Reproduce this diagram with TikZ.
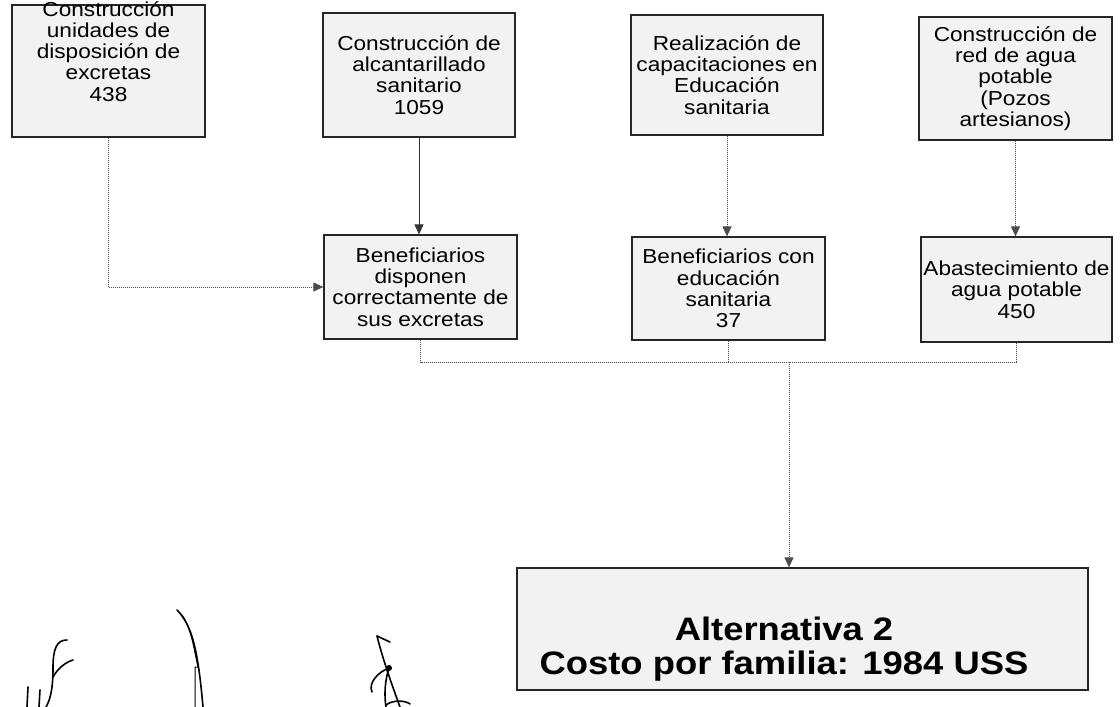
\documentclass[tikz,border=0pt]{standalone}
\usepackage{fontspec}
\setmainfont{Liberation Sans}
\newfontfamily\boxfont[FakeStretch=1.12]{Liberation Sans}
\usetikzlibrary{arrows.meta,calc}
\begin{document}
\begin{tikzpicture}[x=1pt,y=-1pt,
  box/.style={draw=black!85,line width=1.2pt,fill=black!5,inner sep=0pt,
    font=\boxfont\fontsize{20.2}{21.3}\selectfont,align=center},
  txt/.style={inner sep=0pt,font=\boxfont\fontsize{20.2}{21.3}\selectfont,align=center},
  bigtxt/.style={inner sep=0pt,font=\boxfont\bfseries\fontsize{32.5}{34}\selectfont,align=center},
  dots/.style={draw=black!70,line width=0.9pt,dash pattern=on 1pt off 1pt},
  arr/.style={-{Triangle[length=10pt,width=9pt]}},
  sig/.style={line width=1.6pt,line cap=round,line join=round}]
\useasboundingbox (0,0) rectangle (1120,707);
\fill[white] (0,0) rectangle (1120,707);
% top row
\node[box,minimum width=193pt,minimum height=132pt] (b1) at (108.5,71) {};
\node[txt,anchor=north] (b1t) at (108.5,1) {Construcción\\unidades de\\disposición de\\excretas\\438};
\node[box,minimum width=192pt,minimum height=124pt] (b2) at (419,75) {Construcción de\\alcantarillado\\sanitario\\1059};
\node[box,minimum width=192pt,minimum height=120pt] (b3) at (727,75) {Realización de\\capacitaciones en\\Educación\\sanitaria};
\node[box,minimum width=193pt,minimum height=123pt] (b4) at (1015.5,78.5) {Construcción de\\red de agua\\potable\\(Pozos\\artesianos)};
% middle row
\node[box,minimum width=193pt,minimum height=104pt] (b5) at (420.5,287) {Beneficiarios\\disponen\\correctamente de\\sus excretas};
\node[box,minimum width=193pt,minimum height=103pt] (b6) at (728.5,288.5) {Beneficiarios con\\educación\\sanitaria\\37};
\node[box,minimum width=191pt,minimum height=105pt] (b7) at (1016.5,289.5) {Abastecimiento de\\agua potable\\450};
% result box
\node[box,minimum width=571pt,minimum height=122pt] (r) at (802.5,629) {};
\node[bigtxt] (rt) at (784,649) {Alternativa 2\\Costo por familia: 1984 USS};
% connectors
\coordinate (bus) at (789,362);
\draw[dots,arr] (b1.south) |- (b5.west);
\draw[draw=black!80,line width=1pt,arr] (b2.south) -- (b2.south |- b5.north);
\draw[dots,arr] (b3.south) -- (b3.south |- b6.north);
\draw[dots,arr] (b4.south) -- (b4.south |- b7.north);
\draw[dots] (b5.south) |- (bus) -| (b7.south);
\draw[dots] (b6.south) -- (b6.south |- bus);
\draw[dots,arr] (bus) -- (bus |- r.north);
% handwritten marks
\draw[sig] (28,687) -- (27,707);
\draw[sig] (40,690) -- (39,707);
\draw[sig] (67,640) .. controls (57,640) and (53,648) .. (53,668) .. controls (53,690) and (50,700) .. (46,707);
\draw[sig] (53,677) .. controls (58,668) and (66,662) .. (73,660);
\draw[sig] (177,610) .. controls (192,625) and (198,650) .. (203,707);
\draw[line width=1pt] (182,615) .. controls (192,630) and (194,650) .. (198,667) -- (195,667) -- (195,707);
\draw[sig] (377,636) -- (390,642);
\draw[sig] (377,636) .. controls (383,660) and (392,685) .. (400,707);
\draw[sig] (389,668) .. controls (378,672) and (368,683) .. (372,692);
\draw[sig] (389,668) .. controls (385,680) and (384,695) .. (386,707);
\draw[sig] (386,705) .. controls (392,700) and (405,700) .. (410,704);
\fill (389,668) circle (3pt);
\end{tikzpicture}
\end{document}
